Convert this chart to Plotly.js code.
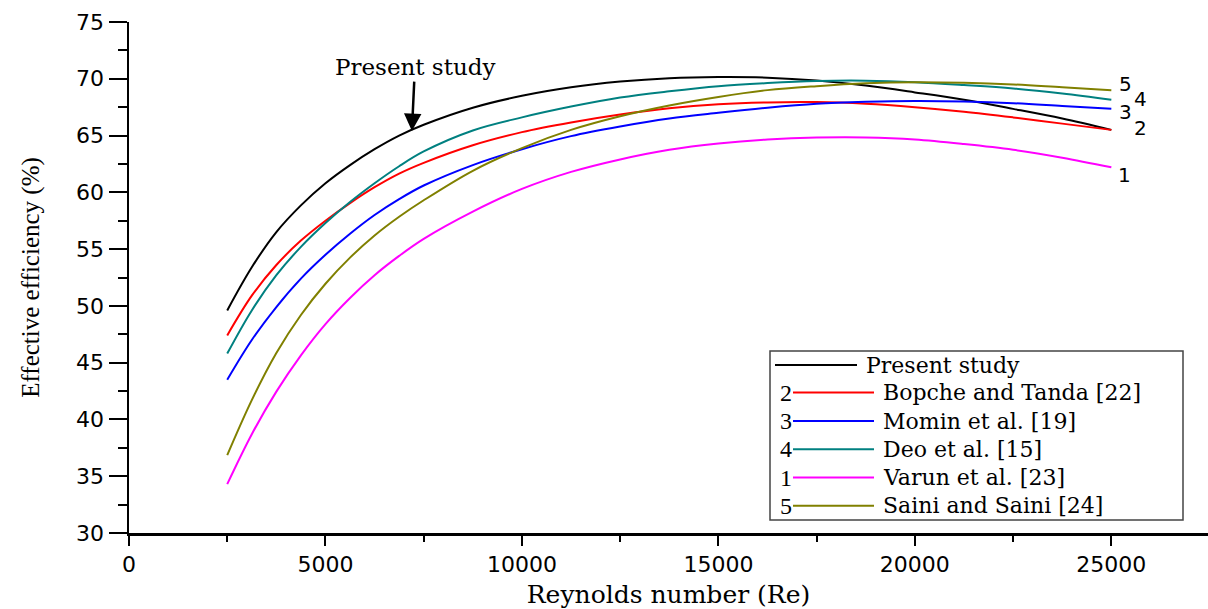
<!DOCTYPE html>
<html>
<head>
<meta charset="utf-8">
<script src="https://cdn.plot.ly/plotly-3.0.1.min.js"></script>
<style>html,body{margin:0;padding:0;background:#fff;}#chart{width:1208px;height:609px;}</style>
</head>
<body>
<div id="chart"></div>
<script>
// ---- data ----
const reynolds = [2500, 3125, 3750, 4375, 5000, 5625, 6250, 6875, 7500, 8750, 10000, 11250, 12500, 13750,
  15000, 16250, 17500, 18750, 20000, 21250, 22500, 23750, 25000];
const presentStudy = [49.6, 53.4, 56.5, 58.85, 60.8, 62.4, 63.8, 65.0, 65.95, 67.45, 68.5, 69.25, 69.75, 70.05,
  70.15, 70.1, 69.85, 69.4, 68.8, 68.15, 67.35, 66.5, 65.5];
const bopcheTanda = [47.4, 50.9, 53.6, 55.75, 57.5, 59.05, 60.45, 61.65, 62.6, 64.15, 65.3, 66.15, 66.85, 67.4,
  67.75, 67.92, 67.95, 67.8, 67.5, 67.1, 66.6, 66.05, 65.5];
const mominEtAl = [43.5, 47.0, 49.9, 52.4, 54.5, 56.35, 58.0, 59.4, 60.6, 62.4, 63.8, 64.95, 65.8, 66.5,
  67.0, 67.45, 67.8, 67.97, 68.05, 68.0, 67.85, 67.6, 67.35];
const deoEtAl = [45.8, 49.6, 52.7, 55.2, 57.3, 59.15, 60.8, 62.3, 63.6, 65.45, 66.6, 67.55, 68.35, 68.9,
  69.35, 69.62, 69.8, 69.83, 69.7, 69.45, 69.15, 68.7, 68.15];
const varunEtAl = [34.3, 38.7, 42.45, 45.65, 48.4, 50.7, 52.7, 54.4, 55.9, 58.3, 60.3, 61.8, 62.9, 63.75,
  64.3, 64.65, 64.82, 64.83, 64.65, 64.25, 63.75, 63.05, 62.2];
const sainiSaini = [36.85, 41.7, 45.85, 49.2, 51.95, 54.25, 56.2, 57.85, 59.3, 61.9, 63.9, 65.5, 66.7, 67.65,
  68.4, 69.0, 69.35, 69.6, 69.7, 69.65, 69.5, 69.25, 69.0];

const seriesNames = ["Present study", "Bopche and Tanda [22]", "Momin et al. [19]",
  "Deo et al. [15]", "Varun et al. [23]", "Saini and Saini [24]"];
const seriesTags = ["", "2", "3", "4", "1", "5"];
const xTickVals = [0, 5000, 10000, 15000, 20000, 25000];
const yTickVals = [30, 35, 40, 45, 50, 55, 60, 65, 70, 75];
const arrowRe = 7200;

// ---- styles ----
const seriesValues = [presentStudy, bopcheTanda, mominEtAl, deoEtAl, varunEtAl, sainiSaini];
const colors = ["#000000", "#ff0000", "#0000ff", "#008080", "#ff00ff", "#808000"];
// end-label offsets (px) for the tags near the right end of each curve
const endShift = [null, [29, 2], [14, -3], [29, 1], [13, -8], [14, 6]];

const M = {l: 129, r: 0, t: 22, b: 76};
const W = 1208, H = 609;
const pw = W - M.l - M.r, ph = H - M.t - M.b;
const px2paperX = p => (p - M.l) / pw;
const px2paperY = p => (H - M.b - p) / ph;

const traces = seriesValues.map((vals, i) => ({
  type: "scatter", mode: "lines", x: reynolds, y: vals, name: seriesNames[i],
  line: {color: colors[i], width: 2, shape: "spline", smoothing: 1},
  showlegend: false, hoverinfo: "skip"
}));

const annotations = [];
const shapes = [];

// tags near the right end of each curve
seriesValues.forEach((vals, i) => {
  if (!seriesTags[i]) return;
  annotations.push({
    x: reynolds[reynolds.length - 1], y: vals[vals.length - 1], xref: "x", yref: "y",
    text: seriesTags[i], showarrow: false, xanchor: "center", yanchor: "middle",
    xshift: endShift[i][0], yshift: endShift[i][1], borderpad: 0,
    font: {family: "DejaVu Sans, Arial, sans-serif", size: 20, color: "#000"}
  });
});

// "Present study" arrow annotation, tip on the present-study curve
function interp(xs, ys, x) {
  for (let k = 0; k < xs.length - 1; k++) {
    if (x >= xs[k] && x <= xs[k + 1]) {
      const t = (x - xs[k]) / (xs[k + 1] - xs[k]);
      return ys[k] + t * (ys[k + 1] - ys[k]);
    }
  }
  return ys[ys.length - 1];
}
annotations.push({
  x: arrowRe, y: interp(reynolds, presentStudy, arrowRe) - 0.1, xref: "x", yref: "y",
  text: "Present study", showarrow: true, ax: 3, ay: -64,
  arrowhead: 2, arrowsize: 1.4, arrowwidth: 2.5, arrowcolor: "#000",
  font: {family: "DejaVu Serif, Liberation Serif, serif", size: 23, color: "#000"}
});

// custom legend box
const box = {x0: 770, x1: 1183, y0: 351, y1: 520};
shapes.push({
  type: "rect", xref: "paper", yref: "paper",
  x0: px2paperX(box.x0), x1: px2paperX(box.x1), y0: px2paperY(box.y1), y1: px2paperY(box.y0),
  line: {color: "#444", width: 1.5}, fillcolor: "rgba(255,255,255,0)"
});
const rowY = [365, 392.5, 421, 449.3, 477.5, 505.7];
seriesNames.forEach((nm, i) => {
  const first = i === 0;
  const lx0 = first ? 775 : 793;
  const lx1 = first ? 857 : 874;
  const tx = first ? 864 : 881;
  shapes.push({
    type: "line", xref: "paper", yref: "paper",
    x0: px2paperX(lx0), x1: px2paperX(lx1), y0: px2paperY(rowY[i]), y1: px2paperY(rowY[i]),
    line: {color: colors[i], width: 2}
  });
  annotations.push({
    x: px2paperX(tx), y: px2paperY(rowY[i]), xref: "paper", yref: "paper",
    text: nm, showarrow: false, xanchor: "left", yanchor: "middle",
    font: {family: "DejaVu Serif, Liberation Serif, serif", size: 22, color: "#000"}
  });
  if (seriesTags[i]) {
    annotations.push({
      x: px2paperX(794), y: px2paperY(rowY[i]), xref: "paper", yref: "paper",
      text: seriesTags[i], showarrow: false, xanchor: "right", yanchor: "middle",
      font: {family: "Liberation Serif, Times New Roman, serif", size: 24, color: "#000"}
    });
  }
});

const layout = {
  width: W, height: H, margin: M,
  paper_bgcolor: "#fff", plot_bgcolor: "#fff",
  showlegend: false,
  xaxis: {
    range: [0, 27460], tickvals: xTickVals, ticktext: xTickVals.map(String),
    showline: true, linecolor: "#000", linewidth: 2.5, mirror: false,
    ticks: "outside", ticklen: 10, tickwidth: 2, tickcolor: "#000",
    minor: {ticks: "outside", ticklen: 6, tickwidth: 2, tickcolor: "#000", dtick: 2500, tick0: 0, showgrid: false},
    showgrid: false, zeroline: false, automargin: false,
    tickfont: {family: "DejaVu Sans, Arial, sans-serif", size: 22, color: "#000"},
    title: {text: "Reynolds number (Re)", standoff: 14,
      font: {family: "DejaVu Serif, Liberation Serif, serif", size: 25, color: "#000"}}
  },
  yaxis: {
    range: [30, 75], tickvals: yTickVals, ticktext: yTickVals.map(String),
    showline: true, linecolor: "#000", linewidth: 2.5, mirror: false,
    ticks: "outside", ticklen: 18, tickwidth: 2, tickcolor: "#000",
    minor: {ticks: "outside", ticklen: 9, tickwidth: 2, tickcolor: "#000", dtick: 2.5, tick0: 30, showgrid: false},
    showgrid: false, zeroline: false, automargin: false,
    tickfont: {family: "DejaVu Sans, Arial, sans-serif", size: 22, color: "#000"},
    title: {text: "Effective efficiency (%)", standoff: 30,
      font: {family: "Liberation Serif, Times New Roman, serif", size: 25, color: "#000"}}
  },
  annotations: annotations,
  shapes: shapes
};

Plotly.newPlot("chart", traces, layout, {displayModeBar: false, staticPlot: true});
</script>
</body>
</html>
